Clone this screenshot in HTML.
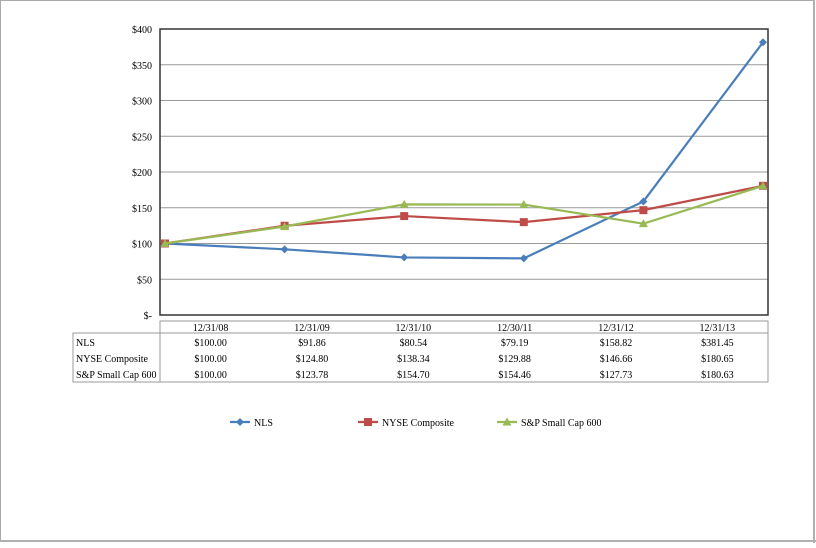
<!DOCTYPE html>
<html><head><meta charset="utf-8"><style>
body{margin:0;background:#fff}
svg text{font-family:"Liberation Serif",serif;font-size:10px;fill:#000}
</style></head><body>
<svg width="816" height="543" xmlns="http://www.w3.org/2000/svg">
<rect x="0.5" y="0.5" width="814" height="541" fill="#fff" stroke="#aaa"/>
<line x1="814" y1="0" x2="814" y2="543" stroke="#b0b0b0" stroke-width="2"/>
<line x1="0" y1="541" x2="816" y2="541" stroke="#b0b0b0" stroke-width="2"/>
<g id="grid"></g><g id="yt"></g><g id="tbl"></g><g id="series"></g><g id="legend"></g>
</svg>
<script>
const categories=["12/31/08","12/31/09","12/31/10","12/30/11","12/31/12","12/31/13"];
const nls=[100.00,91.86,80.54,79.19,158.82,381.45];
const nyse=[100.00,124.80,138.34,129.88,146.66,180.65];
const sp=[100.00,123.78,154.70,154.46,127.73,180.63];
const yTicks=[0,50,100,150,200,250,300,350,400];
const yTickLabels=["$-","$50","$100","$150","$200","$250","$300","$350","$400"];
const seriesNames=["NLS","NYSE Composite","S&P Small Cap 600"];
const NS="http://www.w3.org/2000/svg";
const L=160,R=768,T=29,B=315;
const y=v=>B-(v/400)*(B-T);
const x=i=>165+i*(763-165)/(categories.length-1);
function mk(tag,attrs,parent,txt){const e=document.createElementNS(NS,tag);for(const k in attrs)e.setAttribute(k,attrs[k]);if(txt!==undefined)e.textContent=txt;parent.appendChild(e);return e;}
const grid=document.getElementById('grid'),yt=document.getElementById('yt');
yTicks.forEach((t,i)=>{
 if(t>0){const g=mk('line',{x1:L,x2:R,y1:y(t),y2:y(t),stroke:'#999','stroke-width':1},grid);
 
 }
 const tx=mk('text',{x:L-8,y:y(t)+4,'text-anchor':'end'},yt,yTickLabels[i]);
 
 
});
const pa=mk('rect',{x:L,y:T,width:R-L,height:B-T,fill:'none',stroke:'#333','stroke-width':1.5},grid);


const tbl=document.getElementById('tbl');
const cw=(R-L)/6;
mk('rect',{x:L,y:321,width:R-L,height:61,fill:'none',stroke:'#999'},tbl);
mk('rect',{x:73,y:333,width:R-73,height:49,fill:'none',stroke:'#999'},tbl);
mk('line',{x1:L,x2:L,y1:321,y2:382,stroke:'#999'},tbl);
categories.forEach((c,i)=>{const t=mk('text',{x:L+cw*(i+0.5),y:331,'text-anchor':'middle'},tbl,c);
 
 });
[nls,nyse,sp].forEach((s,r)=>{
 const ry=346+r*16;
 const lb=mk('text',{x:76,y:ry},tbl,seriesNames[r]);
 
 
 s.forEach((v,i)=>{const t=mk('text',{x:L+cw*(i+0.5),y:ry,'text-anchor':'middle'},tbl,'$'+v.toFixed(2));
 
 });
});
const colors=['#4a7ebb','#be4b48','#98b954'];
const sg=document.getElementById('series');
function marker(k,cx,cy,p){
 if(k===0)return mk('polygon',{points:`${cx},${cy-4} ${cx+4},${cy} ${cx},${cy+4} ${cx-4},${cy}`,fill:colors[0]},p);
 if(k===1)return mk('rect',{x:cx-4,y:cy-4,width:8,height:8,fill:colors[1]},p);
 return mk('polygon',{points:`${cx},${cy-4.5} ${cx+4.5},${cy+3.5} ${cx-4.5},${cy+3.5}`,fill:colors[2]},p);
}
[nls,nyse,sp].forEach((s,k)=>{
 const pl=mk('polyline',{points:s.map((v,i)=>x(i)+','+y(v)).join(' '),fill:'none',stroke:colors[k],'stroke-width':2.2},sg);
 
 
 s.forEach((v,i)=>{const m=marker(k,x(i),y(v),sg);
 
 });
});
const lg=document.getElementById('legend');
const lx=[230,358,497];
seriesNames.forEach((n,k)=>{
 const g=mk('g',{},lg);
 
 
 mk('line',{x1:lx[k],x2:lx[k]+20,y1:422,y2:422,stroke:colors[k],'stroke-width':2.2},g);
 marker(k,lx[k]+10,422,g);
 mk('text',{x:lx[k]+24,y:426},g,n);
});
</script>
</body></html>
